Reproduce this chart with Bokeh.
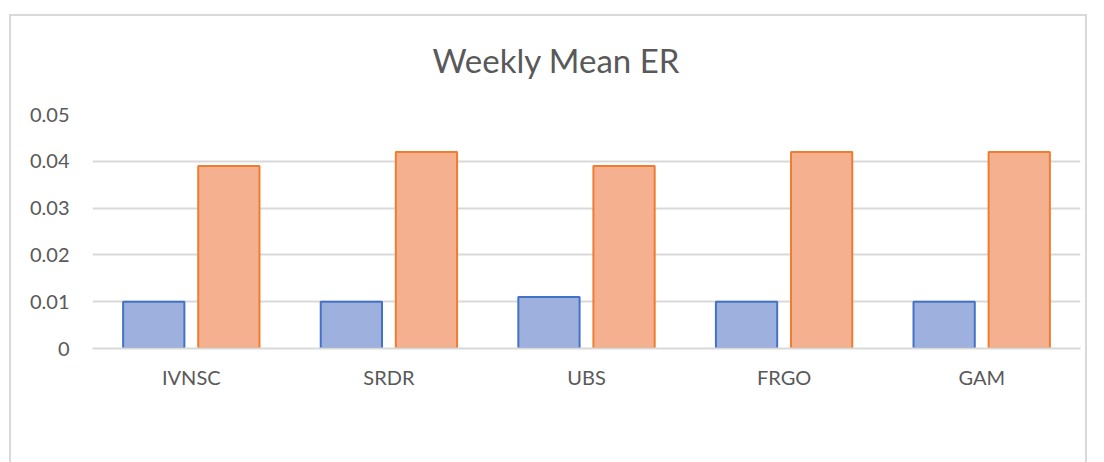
from bokeh.plotting import figure
from bokeh.models import ColumnDataSource, FactorRange, Legend, LegendItem, Title
from bokeh.transform import dodge
from bokeh.embed import file_html
from bokeh.resources import INLINE

categories = ["IVNSC", "SRDR", "UBS", "FRGO", "GAM"]
series_names = ["09/2017-11/2020", "01/2020-11/2020"]
values_2017 = [0.010, 0.010, 0.011, 0.010, 0.010]
values_2020 = [0.039, 0.042, 0.039, 0.042, 0.042]
y_ticks = [0, 0.01, 0.02, 0.03, 0.04, 0.05]

FONT = "Lato"
GREY = "#595959"
BORDER = "linear-gradient(#d9d9d9,#d9d9d9)"

src = ColumnDataSource(dict(cat=categories, a=values_2017, b=values_2020))

p = figure(x_range=FactorRange(*categories), y_range=(0, 0.05),
           frame_width=988, frame_height=234, output_backend="svg", toolbar_location=None,
           min_border_left=92, min_border_right=8, min_border_top=114, min_border_bottom=88)
p.border_fill_color = None
p.background_fill_color = "white"
p.styles = {
    "background-color": "white",
    "background-image": ", ".join([BORDER] * 3),
    "background-size": "1078px 2px, 2px 1000px, 2px 1000px",
    "background-position": "9px 14px, 9px 14px, 1085px 14px",
    "background-repeat": "no-repeat",
}

r1 = p.vbar(x=dodge("cat", -0.19, range=p.x_range), top="a", width=0.31, source=src,
            fill_color="#9eb0de", line_color="#4472c4", line_width=2)
r2 = p.vbar(x=dodge("cat", 0.19, range=p.x_range), top="b", width=0.31, source=src,
            fill_color="#f5b18f", line_color="#ed7d31", line_width=2)

p.title = Title(text="Weekly Mean ER", align="left", text_font=FONT, offset=340,
                text_font_size="33px", text_font_style="normal", text_color=GREY, standoff=70)
p.outline_line_color = None
p.xgrid.grid_line_color = None
p.ygrid.grid_line_color = "#d9d9d9"
p.ygrid.grid_line_width = 2
p.yaxis.ticker = y_ticks
p.yaxis.major_label_overrides = {0: "0"}
p.yaxis.axis_line_color = None
p.yaxis.major_tick_line_color = None
p.yaxis.minor_tick_line_color = None
p.yaxis.major_tick_out = 0
p.yaxis.minor_tick_out = 0
p.yaxis.major_label_standoff = 23
p.xaxis.axis_line_color = "#d9d9d9"
p.xaxis.axis_line_width = 2
p.xaxis.major_tick_line_color = None
p.xaxis.major_tick_out = 0
p.xaxis.major_label_standoff = 16
for ax in (p.xaxis[0], p.yaxis[0]):
    ax.major_label_text_font = FONT
    ax.major_label_text_font_size = "20px"
    ax.major_label_text_color = GREY

legend = Legend(items=[LegendItem(label=series_names[0], renderers=[r1]),
                       LegendItem(label=series_names[1], renderers=[r2])],
                orientation="horizontal", location="center",
                label_text_font=FONT, label_text_font_size="20px", label_text_color=GREY,
                glyph_width=14, glyph_height=14, spacing=41, label_standoff=5,
                border_line_color=None, background_fill_alpha=0, margin=27, padding=0)
p.add_layout(legend, "below")

open("out.html", "w").write(file_html(p, INLINE))
